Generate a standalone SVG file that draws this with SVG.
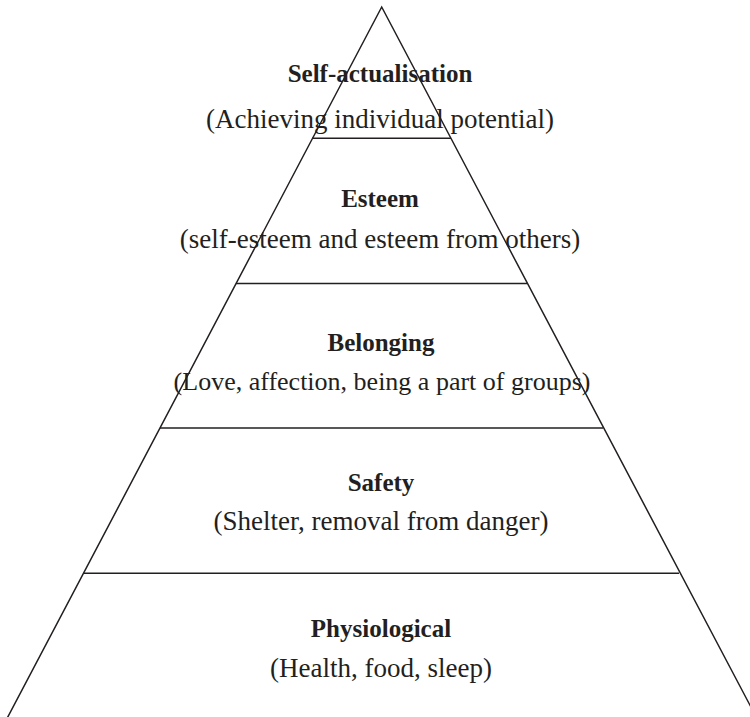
<svg xmlns="http://www.w3.org/2000/svg" width="750" height="717" viewBox="0 0 750 717">
<style>
.t{font-family:"Liberation Serif",serif;font-weight:bold;font-size:25px;fill:#231f20;text-anchor:middle}
.s{font-family:"Liberation Serif",serif;font-size:27px;fill:#231f20;text-anchor:middle}
.ln{stroke:#231f20;stroke-width:1.5;fill:none}
</style>
<rect width="750" height="717" fill="#fff"/>
<g id="connectors">
<path class="ln" d="M2,728 L381.7,7 L762,728"/>
<line class="ln" x1="312" y1="138.3" x2="451" y2="138.3"/>
<line class="ln" x1="236" y1="283.6" x2="527" y2="283.6"/>
<line class="ln" x1="160" y1="428" x2="603" y2="428"/>
<line class="ln" x1="84" y1="573.3" x2="679" y2="573.3"/>
</g>
<g id="self-actualisation"><text class="t" x="380" y="82">Self-actualisation</text><text class="s" x="380" y="128">(Achieving individual potential)</text></g>
<g id="esteem"><text class="t" x="380" y="207">Esteem</text><text class="s" x="380" y="248">(self-esteem and esteem from others)</text></g>
<g id="belonging"><text class="t" x="381" y="351">Belonging</text><text class="s" x="382" y="390" style="font-size:26px">(Love, affection, being a part of groups)</text></g>
<g id="safety"><text class="t" x="381" y="491">Safety</text><text class="s" x="381" y="530">(Shelter, removal from danger)</text></g>
<g id="physiological"><text class="t" x="381" y="637">Physiological</text><text class="s" x="381" y="677">(Health, food, sleep)</text></g>
</svg>
